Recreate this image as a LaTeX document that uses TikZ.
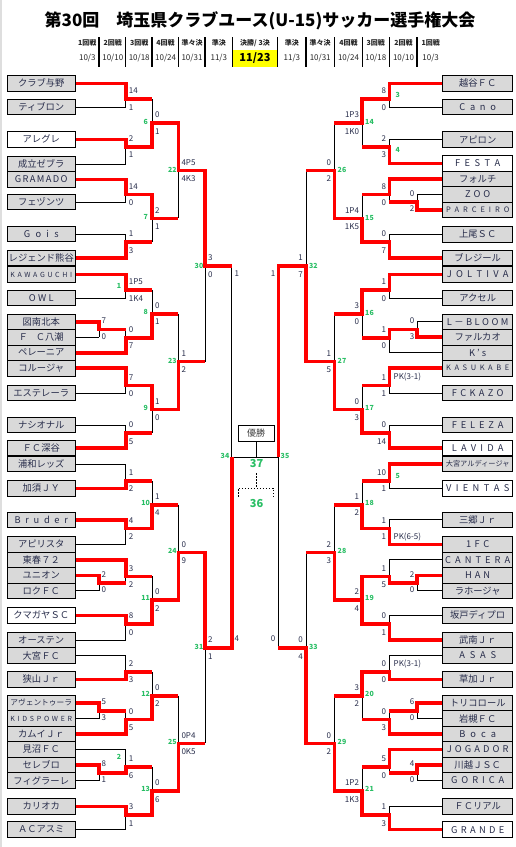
\documentclass[tikz,border=0pt]{standalone}
\usepackage{fontspec}
\setmainfont{Noto Sans CJK JP}
\definecolor{rd}{RGB}{255,0,0}
\definecolor{gn}{RGB}{40,190,100}
\definecolor{tx}{RGB}{40,45,75}
\definecolor{bxg}{RGB}{217,217,217}
\definecolor{yl}{RGB}{255,255,0}
\newcounter{nl}
\newcommand{\sprd}[2]{\makebox[#1][s]{#2}}
\def\lxa{99}\def\lxb{125.7}\def\lxc{152}\def\lxd{178.3}\def\lxe{205}\def\lxf{231.7}
\def\rxa{417}\def\rxb{389.3}\def\rxc{362.2}\def\rxd{334.3}\def\rxe{306}\def\rxf{278.3}
\tikzset{
 bk/.style={draw=black,line width=0.9pt},
 rl/.style={draw=rd,line width=3.6pt,line join=miter},
 tbox/.style={draw=black,line width=0.9pt,fill=bxg,minimum height=15.5pt,inner sep=0pt,text=tx,font=\fontsize{9.3}{10}\selectfont},
 lbox/.style={tbox,minimum width=68.5pt},
 rbox/.style={tbox,minimum width=70pt},
 sc/.style={font=\fontsize{8}{9}\selectfont,text=tx,inner sep=0pt,text height=5.8pt,text depth=0pt},
 mn/.style={font=\bfseries\fontsize{7}{8}\selectfont,text=gn,inner sep=0pt},
 hd/.style={font=\bfseries\fontsize{7}{8}\selectfont,text=black!85,inner sep=0pt},
 dt/.style={font=\fontsize{8}{9}\selectfont,text=black!85,inner sep=0pt},
}
\newcommand{\mt}[5]{\draw[bk] (#1,#2) -- (#1,#3) (#1,#4) -- (#5,#4);}
\newcommand{\bl}[2]{\draw[bk] (#1.east) -- (#1.east -| #2);}
\newcommand{\br}[2]{\draw[bk] (#1.west) -- (#1.west -| #2);}
\newcommand{\ls}[4]{\stepcounter{nl}\node[sc,anchor=west,xshift=3pt,yshift=8.2pt] (s\arabic{nl}a) at (#1,#2) {#3};\node[sc,anchor=west,xshift=3pt,yshift=-8.2pt] (s\arabic{nl}b) at (#1,#2) {#4};}
\newcommand{\rs}[4]{\stepcounter{nl}\node[sc,anchor=east,xshift=-3pt,yshift=8.2pt] (s\arabic{nl}a) at (#1,#2) {#3};\node[sc,anchor=east,xshift=-3pt,yshift=-8.2pt] (s\arabic{nl}b) at (#1,#2) {#4};}
\newcommand{\gl}[3]{\stepcounter{nl}\node[mn] (g\arabic{nl}) at (#1,#2) {#3};}
\newcommand{\lpre}[2]{\stepcounter{nl}\node[sc,anchor=west,xshift=2.5pt,yshift=1pt] (p\arabic{nl}) at (\lxa,#1) {#2};}
\newcommand{\rpre}[2]{\stepcounter{nl}\node[sc,anchor=east,xshift=-2.5pt,yshift=1pt] (p\arabic{nl}) at (\rxa,#1) {#2};}
\begin{document}
\begin{tikzpicture}[x=1pt,y=-1pt]
\useasboundingbox (0,0) rectangle (516,847);
\fill[white] (0,0) rectangle (516,847);
\fill[black!13] (0,0) rectangle (2,847);
% x levels
\coordinate (XA) at (\lxa,0);\coordinate (XB) at (\lxb,0);
\coordinate (YA) at (\rxa,0);\coordinate (YB) at (\rxb,0);
% header
\node[font=\bfseries\fontsize{17}{20}\selectfont,inner sep=0pt] (title) at (260,21) {第30回　埼玉県クラブユース(U-15)サッカー選手権大会};
\fill[yl] (232.3,50) rectangle (277.7,66.7);
\foreach \sx in {99,125.7,152,178.3,205,232.3,277.7,306,334.3,362.2,389.3,417}{\draw[line width=1.2pt] (\sx,37.3) -- (\sx,66.7);}
\node[hd] (h1) at (87.3,42.7) {1回戦};
\node[hd] (h2) at (112.8,42.7) {2回戦};
\node[hd] (h3) at (139.2,42.7) {3回戦};
\node[hd] (h4) at (165.6,42.7) {4回戦};
\node[hd] (h5) at (192,42.7) {準々決};
\node[hd] (h6) at (218.8,42.7) {準決};
\node[hd] (h7) at (255,42.7) {決勝/ 3決};
\node[hd] (h8) at (291.9,42.7) {準決};
\node[hd] (h9) at (320.2,42.7) {準々決};
\node[hd] (h10) at (348.5,42.7) {4回戦};
\node[hd] (h11) at (375.8,42.7) {3回戦};
\node[hd] (h12) at (403.5,42.7) {2回戦};
\node[hd] (h13) at (430.7,42.7) {1回戦};
\node[dt] (d1) at (87.3,57.8) {10/3};
\node[dt] (d2) at (112.8,57.8) {10/10};
\node[dt] (d3) at (139.2,57.8) {10/18};
\node[dt] (d4) at (165.6,57.8) {10/24};
\node[dt] (d5) at (192,57.8) {10/31};
\node[dt] (d6) at (218.8,57.8) {11/3};
\node[font=\bfseries\fontsize{11}{12}\selectfont,inner sep=0pt] (d7) at (255,58.2) {11/23};
\node[dt] (d8) at (291.9,57.8) {11/3};
\node[dt] (d9) at (320.2,57.8) {10/31};
\node[dt] (d10) at (348.5,57.8) {10/24};
\node[dt] (d11) at (375.8,57.8) {10/18};
\node[dt] (d12) at (403.5,57.8) {10/10};
\node[dt] (d13) at (430.7,57.8) {10/3};
% left teams
\node[lbox] (L1) at (41.25,83.3) {クラブ与野};
\node[lbox] (L2) at (41.25,107) {ティブロン};
\node[lbox,fill=white] (L3) at (41.25,139.3) {アレグレ};
\node[lbox] (L4) at (41.25,164) {成立ゼブラ};
\node[lbox] (L5) at (41.25,179.5) {\sprd{52.7pt}{G\hfil R\hfil A\hfil M\hfil A\hfil D\hfil O}};
\node[lbox] (L6) at (41.25,202) {フェヅンツ};
\node[lbox] (L7) at (41.25,234) {\sprd{35pt}{G\hfil o\hfil i\hfil s}};
\node[lbox] (L8) at (41.25,258) {レジェンド熊谷};
\node[lbox] (L9) at (41.25,274.5) {\fontsize{7}{8}\selectfont\sprd{61.7pt}{K\hfil A\hfil W\hfil A\hfil G\hfil U\hfil C\hfil H\hfil I}};
\node[lbox] (L10) at (41.25,298) {\sprd{25pt}{O\hfil W\hfil L}};
\node[lbox] (L11) at (41.25,321.7) {図南北本};
\node[lbox] (L12) at (41.25,337.2) {\sprd{45pt}{Ｆ\hfil Ｃ八潮}};
\node[lbox] (L13) at (41.25,352.7) {ペレーニア};
\node[lbox] (L14) at (41.25,368.2) {コルージャ};
\node[lbox] (L15) at (41.25,393) {エステレーラ};
\node[lbox] (L16) at (41.25,425) {ナシオナル};
\node[lbox] (L17) at (41.25,448) {ＦＣ深谷};
\node[lbox] (L18) at (41.25,464) {浦和レッズ};
\node[lbox] (L19) at (41.25,488.3) {加須ＪＹ};
\node[lbox] (L20) at (41.25,519.8) {\sprd{53.3pt}{B\hfil r\hfil u\hfil d\hfil e\hfil r}};
\node[lbox] (L21) at (41.25,544.3) {アピリスタ};
\node[lbox] (L22) at (41.25,559.8) {東春７２};
\node[lbox] (L23) at (41.25,575.3) {ユニオン};
\node[lbox] (L24) at (41.25,590.8) {ロクＦＣ};
\node[lbox,fill=white] (L25) at (41.25,615.3) {クマガヤＳＣ};
\node[lbox] (L26) at (41.25,640) {オーステン};
\node[lbox] (L27) at (41.25,655.5) {大宮ＦＣ};
\node[lbox] (L28) at (41.25,679.3) {狭山Ｊｒ};
\node[lbox] (L29) at (41.25,703) {\fontsize{7.7}{8}\selectfont アヴェントゥーラ};
\node[lbox] (L30) at (41.25,718.5) {\fontsize{7}{8}\selectfont\sprd{61.7pt}{K\hfil I\hfil D\hfil S\hfil P\hfil O\hfil W\hfil E\hfil R}};
\node[lbox] (L31) at (41.25,734) {カムイＪｒ};
\node[lbox] (L32) at (41.25,749.5) {見沼ＦＣ};
\node[lbox] (L33) at (41.25,765) {セレブロ};
\node[lbox] (L34) at (41.25,780.5) {フィグラーレ};
\node[lbox] (L35) at (41.25,806.3) {カリオカ};
\node[lbox] (L36) at (41.25,829.6) {ＡＣアスミ};
% right teams
\node[rbox] (R1) at (477.7,83.3) {越谷ＦＣ};
\node[rbox] (R2) at (477.7,107) {\sprd{36.7pt}{C\hfil a\hfil n\hfil o}};
\node[rbox] (R3) at (477.7,139.5) {アピロン};
\node[rbox,fill=white] (R4) at (477.7,163.5) {\sprd{45pt}{F\hfil E\hfil S\hfil T\hfil A}};
\node[rbox] (R5) at (477.7,179) {フォルチ};
\node[rbox] (R6) at (477.7,194.5) {\sprd{25pt}{Z\hfil O\hfil O}};
\node[rbox] (R7) at (477.7,210) {\fontsize{7.5}{8}\selectfont\sprd{63.3pt}{P\hfil A\hfil R\hfil C\hfil E\hfil I\hfil R\hfil O}};
\node[rbox] (R8) at (477.7,234.5) {上尾ＳＣ};
\node[rbox] (R9) at (477.7,258) {ブレジール};
\node[rbox] (R10) at (477.7,274.5) {\sprd{61.7pt}{J\hfil O\hfil L\hfil T\hfil I\hfil V\hfil A}};
\node[rbox] (R11) at (477.7,298) {アクセル};
\node[rbox] (R12) at (477.7,321.7) {\sprd{61.7pt}{L\hfil －\hfil B\hfil L\hfil O\hfil O\hfil M}};
\node[rbox] (R13) at (477.7,337.2) {ファルカオ};
\node[rbox] (R14) at (477.7,352.7) {\sprd{17.3pt}{K\hfil ’\hfil s}};
\node[rbox] (R15) at (477.7,368.2) {\fontsize{7.5}{8}\selectfont\sprd{63.3pt}{K\hfil A\hfil S\hfil U\hfil K\hfil A\hfil B\hfil E}};
\node[rbox] (R16) at (477.7,393) {\sprd{51.7pt}{F\hfil C\hfil K\hfil A\hfil Z\hfil O}};
\node[rbox] (R17) at (477.7,425) {\sprd{51.7pt}{F\hfil E\hfil L\hfil E\hfil Z\hfil A}};
\node[rbox,fill=white] (R18) at (477.7,448) {\sprd{51.7pt}{L\hfil A\hfil V\hfil I\hfil D\hfil A}};
\node[rbox] (R19) at (477.7,464) {\fontsize{7.2}{8}\selectfont 大宮アルディージャ};
\node[rbox,fill=white] (R20) at (477.7,488.3) {\sprd{63.3pt}{V\hfil I\hfil E\hfil N\hfil T\hfil A\hfil S}};
\node[rbox] (R21) at (477.7,519.8) {三郷Ｊｒ};
\node[rbox] (R22) at (477.7,544.3) {\sprd{23.3pt}{1\hfil F\hfil C}};
\node[rbox] (R23) at (477.7,559.8) {\sprd{65pt}{C\hfil A\hfil N\hfil T\hfil E\hfil R\hfil A}};
\node[rbox] (R24) at (477.7,575.3) {\sprd{25pt}{H\hfil A\hfil N}};
\node[rbox] (R25) at (477.7,590.8) {ラホージャ};
\node[rbox] (R26) at (477.7,615.3) {坂戸ディプロ};
\node[rbox] (R27) at (477.7,640) {武南Ｊｒ};
\node[rbox] (R28) at (477.7,655.5) {\sprd{36.7pt}{A\hfil S\hfil A\hfil S}};
\node[rbox] (R29) at (477.7,679.3) {草加Ｊｒ};
\node[rbox] (R30) at (477.7,703) {トリコロール};
\node[rbox] (R31) at (477.7,718.5) {岩槻ＦＣ};
\node[rbox] (R32) at (477.7,734) {\sprd{36.7pt}{B\hfil o\hfil c\hfil a}};
\node[rbox] (R33) at (477.7,749.5) {\sprd{61.7pt}{J\hfil O\hfil G\hfil A\hfil D\hfil O\hfil R}};
\node[rbox] (R34) at (477.7,765) {川越ＪＳＣ};
\node[rbox] (R35) at (477.7,780.5) {\sprd{53.3pt}{G\hfil O\hfil R\hfil I\hfil C\hfil A}};
\node[rbox] (R36) at (477.7,806.3) {ＦＣリアル};
\node[rbox,fill=white] (R37) at (477.7,829.6) {\sprd{53.3pt}{G\hfil R\hfil A\hfil N\hfil D\hfil E}};
% box lines left
\foreach \t in {L1,L2,L3,L4,L5,L6,L7,L8,L9,L10,L13,L14,L15,L16,L17,L18,L19,L20,L21,L22,L25,L26,L27,L28,L31,L32,L35,L36}{\bl{\t}{XB}}
\foreach \t in {L11,L12,L23,L24,L29,L30,L33,L34}{\bl{\t}{XA}}
\foreach \t in {R1,R2,R3,R4,R5,R8,R9,R10,R11,R14,R15,R16,R17,R18,R19,R20,R21,R22,R23,R26,R27,R28,R29,R32,R33,R36,R37}{\br{\t}{YB}}
\foreach \t in {R6,R7,R12,R13,R24,R25,R30,R31,R34,R35}{\br{\t}{YA}}
% left matches
\mt{\lxa}{321.7}{337.2}{329.45}{\lxb}
\mt{\lxa}{575.3}{590.8}{583.05}{\lxb}
\mt{\lxa}{703}{718.5}{710.75}{\lxb}
\mt{\lxa}{765}{780.5}{772.75}{\lxb}
\mt{\lxb}{83.3}{107}{99}{\lxc}
\mt{\lxb}{139.3}{164}{146.7}{\lxc}
\mt{\lxb}{179.5}{202}{194.5}{\lxc}
\mt{\lxb}{234}{258}{242.2}{\lxc}
\mt{\lxb}{274.5}{298}{289.9}{\lxc}
\mt{\lxb}{329.45}{352.7}{337.7}{\lxc}
\mt{\lxb}{368.2}{393}{385.4}{\lxc}
\mt{\lxb}{425}{448}{433.1}{\lxc}
\mt{\lxb}{464}{488.3}{480.8}{\lxc}
\mt{\lxb}{519.8}{544.3}{528.6}{\lxc}
\mt{\lxb}{559.8}{583.05}{576.3}{\lxc}
\mt{\lxb}{615.3}{640}{624}{\lxc}
\mt{\lxb}{655.5}{679.3}{671.8}{\lxc}
\mt{\lxb}{710.75}{734}{719.5}{\lxc}
\mt{\lxb}{749.5}{772.75}{767.2}{\lxc}
\mt{\lxb}{806.3}{829.6}{815}{\lxc}
\mt{\lxc}{99}{146.7}{122.9}{\lxd}
\mt{\lxc}{194.5}{242.2}{218.4}{\lxd}
\mt{\lxc}{289.9}{337.7}{313.8}{\lxd}
\mt{\lxc}{385.4}{433.1}{409.3}{\lxd}
\mt{\lxc}{480.8}{528.6}{504.7}{\lxd}
\mt{\lxc}{576.3}{624}{600.2}{\lxd}
\mt{\lxc}{671.8}{719.5}{695.7}{\lxd}
\mt{\lxc}{767.2}{815}{791.1}{\lxd}
\mt{\lxd}{122.9}{218.4}{170.6}{\lxe}
\mt{\lxd}{313.8}{409.3}{361.6}{\lxe}
\mt{\lxd}{504.7}{600.2}{552.4}{\lxe}
\mt{\lxd}{695.7}{791.1}{743.4}{\lxe}
\mt{\lxe}{170.6}{361.6}{266.1}{\lxf}
\mt{\lxe}{552.4}{743.4}{647.9}{\lxf}
\draw[bk] (\lxf,266.1) -- (\lxf,647.9);
% right matches
\mt{\rxa}{194.5}{210}{202.25}{\rxb}
\mt{\rxa}{321.7}{337.2}{329.45}{\rxb}
\mt{\rxa}{575.3}{590.8}{583.05}{\rxb}
\mt{\rxa}{703}{718.5}{710.75}{\rxb}
\mt{\rxa}{765}{780.5}{772.75}{\rxb}
\mt{\rxb}{83.3}{107}{99}{\rxc}
\mt{\rxb}{139.5}{163.5}{146.7}{\rxc}
\mt{\rxb}{179}{202.25}{194.5}{\rxc}
\mt{\rxb}{234.5}{258}{242.2}{\rxc}
\mt{\rxb}{274.5}{298}{289.9}{\rxc}
\mt{\rxb}{329.45}{352.7}{337.7}{\rxc}
\mt{\rxb}{368.2}{393}{385.4}{\rxc}
\mt{\rxb}{425}{448}{433.1}{\rxc}
\mt{\rxb}{464}{488.3}{480.8}{\rxc}
\mt{\rxb}{519.8}{544.3}{528.6}{\rxc}
\mt{\rxb}{559.8}{583.05}{576.3}{\rxc}
\mt{\rxb}{615.3}{640}{624}{\rxc}
\mt{\rxb}{655.5}{679.3}{671.8}{\rxc}
\mt{\rxb}{710.75}{734}{719.5}{\rxc}
\mt{\rxb}{749.5}{772.75}{767.2}{\rxc}
\mt{\rxb}{806.3}{829.6}{815}{\rxc}
\mt{\rxc}{99}{146.7}{122.9}{\rxd}
\mt{\rxc}{194.5}{242.2}{218.4}{\rxd}
\mt{\rxc}{289.9}{337.7}{313.8}{\rxd}
\mt{\rxc}{385.4}{433.1}{409.3}{\rxd}
\mt{\rxc}{480.8}{528.6}{504.7}{\rxd}
\mt{\rxc}{576.3}{624}{600.2}{\rxd}
\mt{\rxc}{671.8}{719.5}{695.7}{\rxd}
\mt{\rxc}{767.2}{815}{791.1}{\rxd}
\mt{\rxd}{122.9}{218.4}{170.6}{\rxe}
\mt{\rxd}{313.8}{409.3}{361.6}{\rxe}
\mt{\rxd}{504.7}{600.2}{552.4}{\rxe}
\mt{\rxd}{695.7}{791.1}{743.4}{\rxe}
\mt{\rxe}{170.6}{361.6}{266.1}{\rxf}
\mt{\rxe}{552.4}{743.4}{647.9}{\rxf}
\draw[bk] (\rxf,266.1) -- (\rxf,647.9);
% final
\coordinate (F1) at (\lxf,457);
\coordinate (F2) at (\rxf,457);
\draw[bk] (F1) -- (F2);
\node[draw=black,line width=0.9pt,fill=white,minimum width=35.7pt,minimum height=16pt,inner sep=0pt,text=black!75,font=\fontsize{9}{10}\selectfont] (win) at (256.2,433.2) {優勝};
\draw[bk] (win.south) -- (win.south |- F1);
\coordinate (D1) at (256.2,473.3);
\coordinate (D2) at (256.2,488.3);
\draw[line width=0.9pt,dash pattern=on 1.5pt off 1.5pt] (D1) -- (D2) (238.3,496.7) -- (238.3,488.3) -- (273.3,488.3) -- (273.3,496.7);
\node[font=\bfseries\fontsize{11}{12}\selectfont,text=gn,inner sep=0pt] (m37) at (256.5,463.5) {37};
\node[font=\bfseries\fontsize{11}{12}\selectfont,text=gn,inner sep=0pt] (m36) at (256.5,503.3) {36};
% red paths left
\draw[rl] (L1.east) -- (\lxb,83.3) -- (\lxb,99) -- (\lxc,99);
\draw[rl] (L3.east) -- (\lxb,139.3) -- (\lxb,146.7) -- (\lxc,146.7) -- (\lxc,122.9) -- (\lxd,122.9) -- (\lxd,170.6) -- (\lxe,170.6) -- (\lxe,266.1) -- (\lxf,266.1);
\draw[rl] (L5.east) -- (\lxb,179.5) -- (\lxb,194.5) -- (\lxc,194.5) -- (\lxc,218.4) -- (\lxd,218.4);
\draw[rl] (L8.east) -- (\lxb,258) -- (\lxb,242.2) -- (\lxc,242.2);
\draw[rl] (L9.east) -- (\lxb,274.5) -- (\lxb,289.9) -- (\lxc,289.9);
\draw[rl] (L11.east) -- (\lxa,321.7) -- (\lxa,329.45) -- (\lxb,329.45);
\draw[rl] (L13.east) -- (\lxb,352.7) -- (\lxb,337.7) -- (\lxc,337.7) -- (\lxc,313.8) -- (\lxd,313.8);
\draw[rl] (L14.east) -- (\lxb,368.2) -- (\lxb,385.4) -- (\lxc,385.4) -- (\lxc,409.3) -- (\lxd,409.3) -- (\lxd,361.6) -- (\lxe,361.6);
\draw[rl] (L17.east) -- (\lxb,448) -- (\lxb,433.1) -- (\lxc,433.1);
\draw[rl] (L19.east) -- (\lxb,488.3) -- (\lxb,480.8) -- (\lxc,480.8);
\draw[rl] (L20.east) -- (\lxb,519.8) -- (\lxb,528.6) -- (\lxc,528.6) -- (\lxc,504.7) -- (\lxd,504.7);
\draw[rl] (L22.east) -- (\lxb,559.8) -- (\lxb,576.3) -- (\lxc,576.3);
\draw[rl] (L23.east) -- (\lxa,575.3) -- (\lxa,583.05) -- (\lxb,583.05);
\draw[rl] (L25.east) -- (\lxb,615.3) -- (\lxb,624) -- (\lxc,624) -- (\lxc,600.2) -- (\lxd,600.2) -- (\lxd,552.4) -- (\lxe,552.4) -- (\lxe,647.9) -- (\lxf,647.9) -- (F1);
\draw[rl] (L28.east) -- (\lxb,679.3) -- (\lxb,671.8) -- (\lxc,671.8);
\draw[rl] (L29.east) -- (\lxa,703) -- (\lxa,710.75) -- (\lxb,710.75);
\draw[rl] (L31.east) -- (\lxb,734) -- (\lxb,719.5) -- (\lxc,719.5) -- (\lxc,695.7) -- (\lxd,695.7);
\draw[rl] (L33.east) -- (\lxa,765) -- (\lxa,772.75) -- (\lxb,772.75) -- (\lxb,767.2) -- (\lxc,767.2);
\draw[rl] (L35.east) -- (\lxb,806.3) -- (\lxb,815) -- (\lxc,815) -- (\lxc,791.1) -- (\lxd,791.1) -- (\lxd,743.4) -- (\lxe,743.4);
% red paths right
\draw[rl] (R1.west) -- (\rxb,83.3) -- (\rxb,99) -- (\rxc,99) -- (\rxc,122.9) -- (\rxd,122.9);
\draw[rl] (R4.west) -- (\rxb,163.5) -- (\rxb,146.7) -- (\rxc,146.7);
\draw[rl] (R7.west) -- (\rxa,210) -- (\rxa,202.25) -- (\rxb,202.25);
\draw[rl] (R5.west) -- (\rxb,179) -- (\rxb,194.5) -- (\rxc,194.5);
\draw[rl] (R9.west) -- (\rxb,258) -- (\rxb,242.2) -- (\rxc,242.2) -- (\rxc,218.4) -- (\rxd,218.4) -- (\rxd,170.6) -- (\rxe,170.6);
\draw[rl] (R10.west) -- (\rxb,274.5) -- (\rxb,289.9) -- (\rxc,289.9) -- (\rxc,313.8) -- (\rxd,313.8);
\draw[rl] (R13.west) -- (\rxa,337.2) -- (\rxa,329.45) -- (\rxb,329.45) -- (\rxb,337.7) -- (\rxc,337.7);
\draw[rl] (R15.west) -- (\rxb,368.2) -- (\rxb,385.4) -- (\rxc,385.4);
\draw[rl] (R18.west) -- (\rxb,448) -- (\rxb,433.1) -- (\rxc,433.1) -- (\rxc,409.3) -- (\rxd,409.3) -- (\rxd,361.6) -- (\rxe,361.6) -- (\rxe,266.1) -- (\rxf,266.1) -- (F2);
\draw[rl] (R19.west) -- (\rxb,464) -- (\rxb,480.8) -- (\rxc,480.8);
\draw[rl] (R22.west) -- (\rxb,544.3) -- (\rxb,528.6) -- (\rxc,528.6) -- (\rxc,504.7) -- (\rxd,504.7);
\draw[rl] (R24.west) -- (\rxa,575.3) -- (\rxa,583.05) -- (\rxb,583.05) -- (\rxb,576.3) -- (\rxc,576.3) -- (\rxc,600.2);
\draw[rl] (R27.west) -- (\rxb,640) -- (\rxb,624) -- (\rxc,624) -- (\rxc,600.2) -- (\rxd,600.2) -- (\rxd,552.4) -- (\rxe,552.4);
\draw[rl] (R29.west) -- (\rxb,679.3) -- (\rxb,671.8) -- (\rxc,671.8) -- (\rxc,695.7) -- (\rxd,695.7);
\draw[rl] (R30.west) -- (\rxa,703) -- (\rxa,710.75) -- (\rxb,710.75);
\draw[rl] (R32.west) -- (\rxb,734) -- (\rxb,719.5) -- (\rxc,719.5);
\draw[rl] (R33.west) -- (\rxb,749.5) -- (\rxb,767.2) -- (\rxc,767.2);
\draw[rl] (R34.west) -- (\rxa,765) -- (\rxa,772.75) -- (\rxb,772.75);
\draw[rl] (R37.west) -- (\rxb,829.6) -- (\rxb,815) -- (\rxc,815) -- (\rxc,791.1) -- (\rxd,791.1) -- (\rxd,743.4) -- (\rxe,743.4) -- (\rxe,647.9) -- (\rxf,647.9);
% scores left
\ls{\lxb}{99}{14}{1}
\ls{\lxb}{146.7}{2}{1}
\ls{\lxb}{194.5}{14}{0}
\ls{\lxb}{242.2}{1}{3}
\ls{\lxb}{289.9}{1P5}{1K4}
\ls{\lxb}{337.7}{0}{7}
\ls{\lxb}{385.4}{7}{0}
\ls{\lxb}{433.1}{0}{5}
\ls{\lxb}{480.8}{1}{2}
\ls{\lxb}{528.6}{4}{2}
\ls{\lxb}{576.3}{3}{2}
\ls{\lxb}{624}{8}{0}
\ls{\lxb}{671.8}{2}{3}
\ls{\lxb}{719.5}{0}{5}
\ls{\lxb}{767.2}{1}{6}
\ls{\lxb}{815}{3}{1}
\ls{\lxc}{122.9}{0}{1}
\ls{\lxc}{218.4}{2}{1}
\ls{\lxc}{313.8}{0}{1}
\ls{\lxc}{409.3}{1}{0}
\ls{\lxc}{504.7}{1}{4}
\ls{\lxc}{600.2}{0}{2}
\ls{\lxc}{695.7}{0}{2}
\ls{\lxc}{791.1}{0}{6}
\ls{\lxd}{170.6}{4P5}{4K3}
\ls{\lxd}{361.6}{1}{2}
\ls{\lxd}{552.4}{0}{9}
\ls{\lxd}{743.4}{0P4}{0K5}
\ls{\lxe}{266.1}{3}{0}
\ls{\lxe}{647.9}{2}{1}
\node[sc,anchor=west] (sf1) at (234.5,273.3) {1};
\node[sc,anchor=west] (sf2) at (234.5,638.3) {4};
\lpre{321.7}{7}\lpre{337.2}{0}\lpre{575.3}{2}\lpre{590.8}{0}
\lpre{703}{5}\lpre{718.5}{3}\lpre{765}{8}\lpre{780.5}{1}
% scores right
\rs{\rxb}{99}{8}{0}
\rs{\rxb}{146.7}{2}{3}
\rs{\rxb}{194.5}{8}{0}
\rs{\rxb}{242.2}{0}{7}
\rs{\rxb}{289.9}{1}{0}
\rs{\rxb}{337.7}{1}{0}
\rs{\rxb}{385.4}{1}{1}
\rs{\rxb}{433.1}{0}{14}
\rs{\rxb}{480.8}{10}{1}
\rs{\rxb}{528.6}{1}{1}
\rs{\rxb}{576.3}{1}{5}
\rs{\rxb}{624}{0}{1}
\rs{\rxb}{671.8}{0}{0}
\rs{\rxb}{719.5}{0}{3}
\rs{\rxb}{767.2}{5}{0}
\rs{\rxb}{815}{1}{3}
\rs{\rxc}{122.9}{1P3}{1K0}
\rs{\rxc}{218.4}{1P4}{1K5}
\rs{\rxc}{313.8}{3}{0}
\rs{\rxc}{409.3}{0}{3}
\rs{\rxc}{504.7}{1}{2}
\rs{\rxc}{600.2}{2}{4}
\rs{\rxc}{695.7}{3}{2}
\rs{\rxc}{791.1}{1P2}{1K3}
\rs{\rxd}{170.6}{0}{2}
\rs{\rxd}{361.6}{1}{5}
\rs{\rxd}{552.4}{2}{3}
\rs{\rxd}{743.4}{0}{2}
\rs{\rxe}{266.1}{1}{7}
\rs{\rxe}{647.9}{0}{4}
\node[sc,anchor=east] (sf3) at (275.5,273.3) {1};
\node[sc,anchor=east] (sf4) at (275.5,638.3) {0};
\rpre{194.5}{0}\rpre{210}{2}\rpre{321.7}{0}\rpre{337.2}{3}\rpre{575.3}{2}
\rpre{590.8}{0}\rpre{703}{6}\rpre{718.5}{0}\rpre{765}{4}\rpre{780.5}{0}
\node[sc,anchor=west] (pk1) at (393.5,376.7) {PK(3-1)};
\node[sc,anchor=west] (pk2) at (393.5,536.7) {PK(6-5)};
\node[sc,anchor=west] (pk3) at (393.5,664) {PK(3-1)};
% match numbers
\gl{119}{285.7}{1}\gl{119}{757.3}{2}
\gl{145.7}{122.3}{6}\gl{145.7}{216.7}{7}\gl{145.7}{312.3}{8}\gl{145.7}{408.3}{9}
\gl{145.7}{503.3}{10}\gl{145.7}{598.3}{11}\gl{145.7}{694.3}{12}\gl{145.7}{789}{13}
\gl{172.3}{170}{22}\gl{172.3}{361}{23}\gl{172.3}{551}{24}\gl{172.3}{741.7}{25}
\gl{199}{265.7}{30}\gl{199}{646.7}{31}\gl{225}{456}{34}
\gl{397.7}{95}{3}\gl{397.7}{150}{4}\gl{397.7}{475.7}{5}
\gl{369.5}{122.3}{14}\gl{369.5}{217.7}{15}\gl{369.5}{313.3}{16}\gl{369.5}{408.3}{17}
\gl{369.5}{503.3}{18}\gl{369.5}{598.3}{19}\gl{369.5}{694.3}{20}\gl{369.5}{789}{21}
\gl{342}{170}{26}\gl{342}{361}{27}\gl{342}{551}{28}\gl{342}{741.7}{29}
\gl{313.3}{265.7}{32}\gl{313.3}{646.7}{33}\gl{285}{456}{35}
\end{tikzpicture}
\end{document}
